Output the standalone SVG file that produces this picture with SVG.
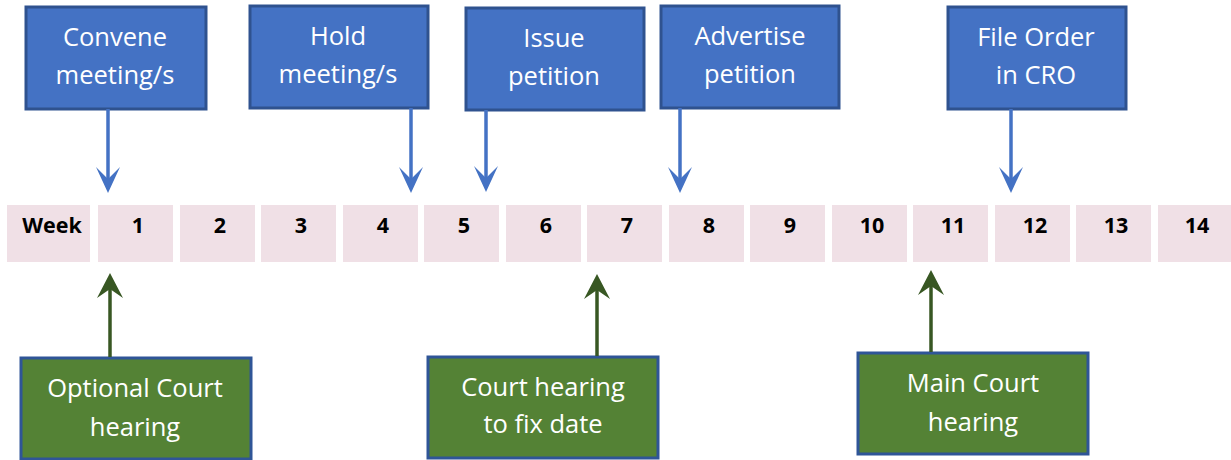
<svg xmlns="http://www.w3.org/2000/svg" width="1231" height="460" viewBox="0 0 1231 460">
<style>
.bbox{fill:#4472C4;stroke:#2F528F;stroke-width:3}
.gbox{fill:#548235;stroke:#2F5597;stroke-width:3}
.lbl{font-family:"Open Sans","Noto Sans",sans-serif;font-size:25.5px;fill:#ffffff;text-anchor:middle}
.cell{fill:#F0E0E6}
.num{font-family:"Open Sans","Noto Sans",sans-serif;font-size:21.5px;font-weight:bold;fill:#000;text-anchor:middle}
.bline{stroke:#4472C4;stroke-width:3.5;fill:none}
.gline{stroke:#385723;stroke-width:3.5;fill:none}
.bhead{fill:#4472C4}
.ghead{fill:#385723}
</style>
<g id="timeline">
<rect class="cell" x="7" y="205" width="83" height="57"/>
<text class="num" x="52" y="233">Week</text>
<rect class="cell" x="98" y="205" width="75" height="57"/><text class="num" x="138" y="233">1</text>
<rect class="cell" x="180" y="205" width="75" height="57"/><text class="num" x="220" y="233">2</text>
<rect class="cell" x="261" y="205" width="75" height="57"/><text class="num" x="301" y="233">3</text>
<rect class="cell" x="343" y="205" width="75" height="57"/><text class="num" x="383" y="233">4</text>
<rect class="cell" x="424" y="205" width="75" height="57"/><text class="num" x="464" y="233">5</text>
<rect class="cell" x="506" y="205" width="75" height="57"/><text class="num" x="546" y="233">6</text>
<rect class="cell" x="587" y="205" width="75" height="57"/><text class="num" x="627" y="233">7</text>
<rect class="cell" x="669" y="205" width="75" height="57"/><text class="num" x="709" y="233">8</text>
<rect class="cell" x="750" y="205" width="75" height="57"/><text class="num" x="790" y="233">9</text>
<rect class="cell" x="832" y="205" width="75" height="57"/><text class="num" x="872" y="233">10</text>
<rect class="cell" x="913" y="205" width="75" height="57"/><text class="num" x="953" y="233">11</text>
<rect class="cell" x="995" y="205" width="75" height="57"/><text class="num" x="1035" y="233">12</text>
<rect class="cell" x="1076" y="205" width="75" height="57"/><text class="num" x="1116" y="233">13</text>
<rect class="cell" x="1158" y="205" width="73" height="57"/><text class="num" x="1197" y="233">14</text>
</g>
<g id="convene">
<rect class="bbox" x="26" y="7" width="180" height="102"/>
<text class="lbl" x="115" y="46">Convene</text>
<text class="lbl" x="115" y="84">meeting/s</text>
</g>
<g id="hold">
<rect class="bbox" x="250" y="6" width="178" height="102"/>
<text class="lbl" x="338" y="45">Hold</text>
<text class="lbl" x="338" y="83">meeting/s</text>
</g>
<g id="issue">
<rect class="bbox" x="466" y="8" width="178" height="102"/>
<text class="lbl" x="554" y="47">Issue</text>
<text class="lbl" x="554" y="85">petition</text>
</g>
<g id="advertise">
<rect class="bbox" x="661" y="6" width="178" height="102"/>
<text class="lbl" x="750" y="45">Advertise</text>
<text class="lbl" x="750" y="83">petition</text>
</g>
<g id="fileorder">
<rect class="bbox" x="948" y="7" width="178" height="102"/>
<text class="lbl" x="1036" y="46">File Order</text>
<text class="lbl" x="1036" y="84">in CRO</text>
</g>
<g id="optional">
<rect class="gbox" x="21" y="358" width="230" height="101"/>
<text class="lbl" x="135" y="397">Optional Court</text>
<text class="lbl" x="135" y="436">hearing</text>
</g>
<g id="fixdate">
<rect class="gbox" x="428" y="357" width="230" height="101"/>
<text class="lbl" x="543" y="396">Court hearing</text>
<text class="lbl" x="543" y="433">to fix date</text>
</g>
<g id="maincourt">
<rect class="gbox" x="858" y="353" width="230" height="101"/>
<text class="lbl" x="973" y="392">Main Court</text>
<text class="lbl" x="973" y="431">hearing</text>
</g>
<g id="connectors">
<line class="bline" x1="108" y1="109" x2="108" y2="182"/>
<path class="bhead" d="M108,193 L96,167 L108,179 L120,167 Z"/>
<line class="bline" x1="411" y1="108" x2="411" y2="182"/>
<path class="bhead" d="M411,193 L399,167 L411,179 L423,167 Z"/>
<line class="bline" x1="486" y1="110" x2="486" y2="181"/>
<path class="bhead" d="M486,192 L474,166 L486,178 L498,166 Z"/>
<line class="bline" x1="680" y1="108" x2="680" y2="182"/>
<path class="bhead" d="M680,193 L668,167 L680,179 L692,167 Z"/>
<line class="bline" x1="1011" y1="109" x2="1011" y2="182"/>
<path class="bhead" d="M1011,193 L999,167 L1011,179 L1023,167 Z"/>
<line class="gline" x1="110" y1="357" x2="110" y2="285"/>
<path class="ghead" d="M110,273 L97,298 L110,289 L123,298 Z"/>
<line class="gline" x1="597" y1="356" x2="597" y2="286"/>
<path class="ghead" d="M597,274 L584,299 L597,290 L610,299 Z"/>
<line class="gline" x1="931" y1="352" x2="931" y2="282"/>
<path class="ghead" d="M931,270 L918,295 L931,286 L944,295 Z"/>
</g>
</svg>
